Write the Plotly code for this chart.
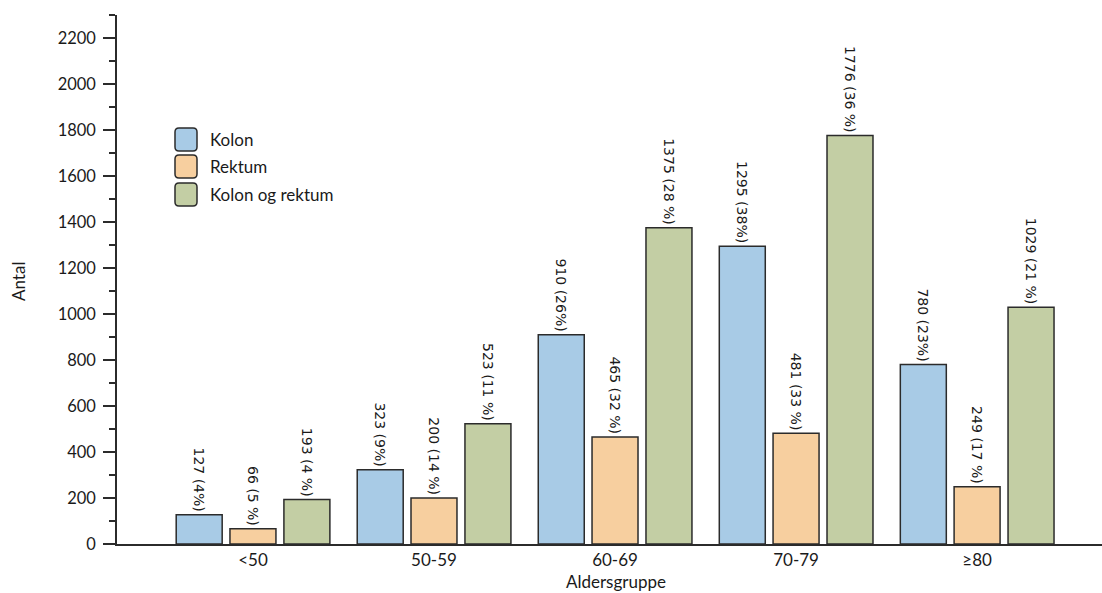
import plotly.graph_objects as go

categories = ["<50", "50-59", "60-69", "70-79", "≥80"]
kolon = [127, 323, 910, 1295, 780]
rektum = [66, 200, 465, 481, 249]
begge = [193, 523, 1375, 1776, 1029]
kolon_labels = ["127 (4%)", "323 (9%)", "910 (26%)", "1295 (38%)", "780 (23%)"]
rektum_labels = ["66 (5 %)", "200 (14 %)", "465 (32 %)", "481 (33 %)", "249 (17 %)"]
begge_labels = ["193 (4 %)", "523 (11 %)", "1375 (28 %)", "1776 (36 %)", "1029 (21 %)"]
series_names = ["Kolon", "Rektum", "Kolon og rektum"]
y_ticks = list(range(0, 2201, 200))

colors = ["#A8CBE6", "#F7CF9F", "#C3CEA4"]
edge = "#2b2b2b"
txt = "#1a1a1a"

W, H = 1102, 593
L, R, T, B = 117, 0, 15, 49
pw, ph = W - L - R, H - T - B


def px2paper(x, y):
    return (x - L) / pw, 1 - (y - T) / ph


fig = go.Figure()
offsets = [-0.424, -0.127, 0.171]
for name, vals, labs, col, off in zip(series_names, [kolon, rektum, begge],
                                      [kolon_labels, rektum_labels, begge_labels],
                                      colors, offsets):
    fig.add_trace(go.Bar(
        x=categories, y=vals, name=name, text=labs,
        textposition="outside", textangle=90, constraintext="none",
        textfont=dict(family="DejaVu Sans", size=14, color=txt),
        marker=dict(color=col, line=dict(color=edge, width=1.5)),
        width=0.254, offset=off, cliponaxis=False, showlegend=False,
    ))

# custom legend (rounded swatches)
shapes = []
annotations = []
legend_rows = [(128, 151), (155, 178), (183, 206)]


def P(x, y):
    a, b = px2paper(x, y)
    return f"{a:.5f},{b:.5f}"


for (y0, y1), col, name in zip(legend_rows, colors, series_names):
    x0, x1 = 175, 197
    r = 4
    path = (f"M {P(x0 + r, y0)} L {P(x1 - r, y0)} Q {P(x1, y0)} {P(x1, y0 + r)} "
            f"L {P(x1, y1 - r)} Q {P(x1, y1)} {P(x1 - r, y1)} "
            f"L {P(x0 + r, y1)} Q {P(x0, y1)} {P(x0, y1 - r)} "
            f"L {P(x0, y0 + r)} Q {P(x0, y0)} {P(x0 + r, y0)} Z")
    shapes.append(dict(type="path", path=path, xref="paper", yref="paper",
                       fillcolor=col, line=dict(color=edge, width=1.5)))
    tx, ty = px2paper(208, (y0 + y1) / 2)
    annotations.append(dict(x=tx, y=ty, xref="paper", yref="paper", text=name,
                            showarrow=False, xanchor="left", yanchor="middle",
                            font=dict(family="Lato", size=17, color=txt)))

annotations.append(dict(x=(616 - L) / pw, y=-(581 - 544) / ph, xref="paper", yref="paper",
                        text="Aldersgruppe", showarrow=False, xanchor="center", yanchor="middle",
                        font=dict(family="Lato", size=17, color=txt)))
annotations.append(dict(x=-(117 - 18) / pw, y=1 - (282 - T) / ph, xref="paper", yref="paper",
                        text="Antal", showarrow=False, textangle=-90, xanchor="center", yanchor="middle",
                        font=dict(family="Lato", size=17, color=txt)))

fig.update_layout(
    width=W, height=H,
    margin=dict(l=L, r=R, t=T, b=B),
    plot_bgcolor="white", paper_bgcolor="white",
    barmode="group",
    shapes=shapes, annotations=annotations,
    font=dict(family="Lato", size=17, color=txt),
)
fig.update_xaxes(
    type="category", range=[-0.751, 4.69],
    showline=True, linecolor=edge, linewidth=1.5,
    ticks="", showgrid=False, zeroline=False,
    tickfont=dict(family="Lato", size=17, color=txt),
)
fig.update_yaxes(
    range=[0, 2300], tickvals=y_ticks,
    showline=True, linecolor=edge, linewidth=1.5,
    ticks="outside", ticklen=12, tickwidth=1.5, tickcolor=edge,
    minor=dict(dtick=100, ticks="outside", ticklen=6, tickwidth=1.5, tickcolor=edge, showgrid=False),
    showgrid=False, zeroline=False, ticklabelstandoff=4,
    tickfont=dict(family="Lato", size=16.5, color=txt),
)

fig.write_html("out.html", config={"displayModeBar": False},
               post_script="document.body.style.margin='0';")
